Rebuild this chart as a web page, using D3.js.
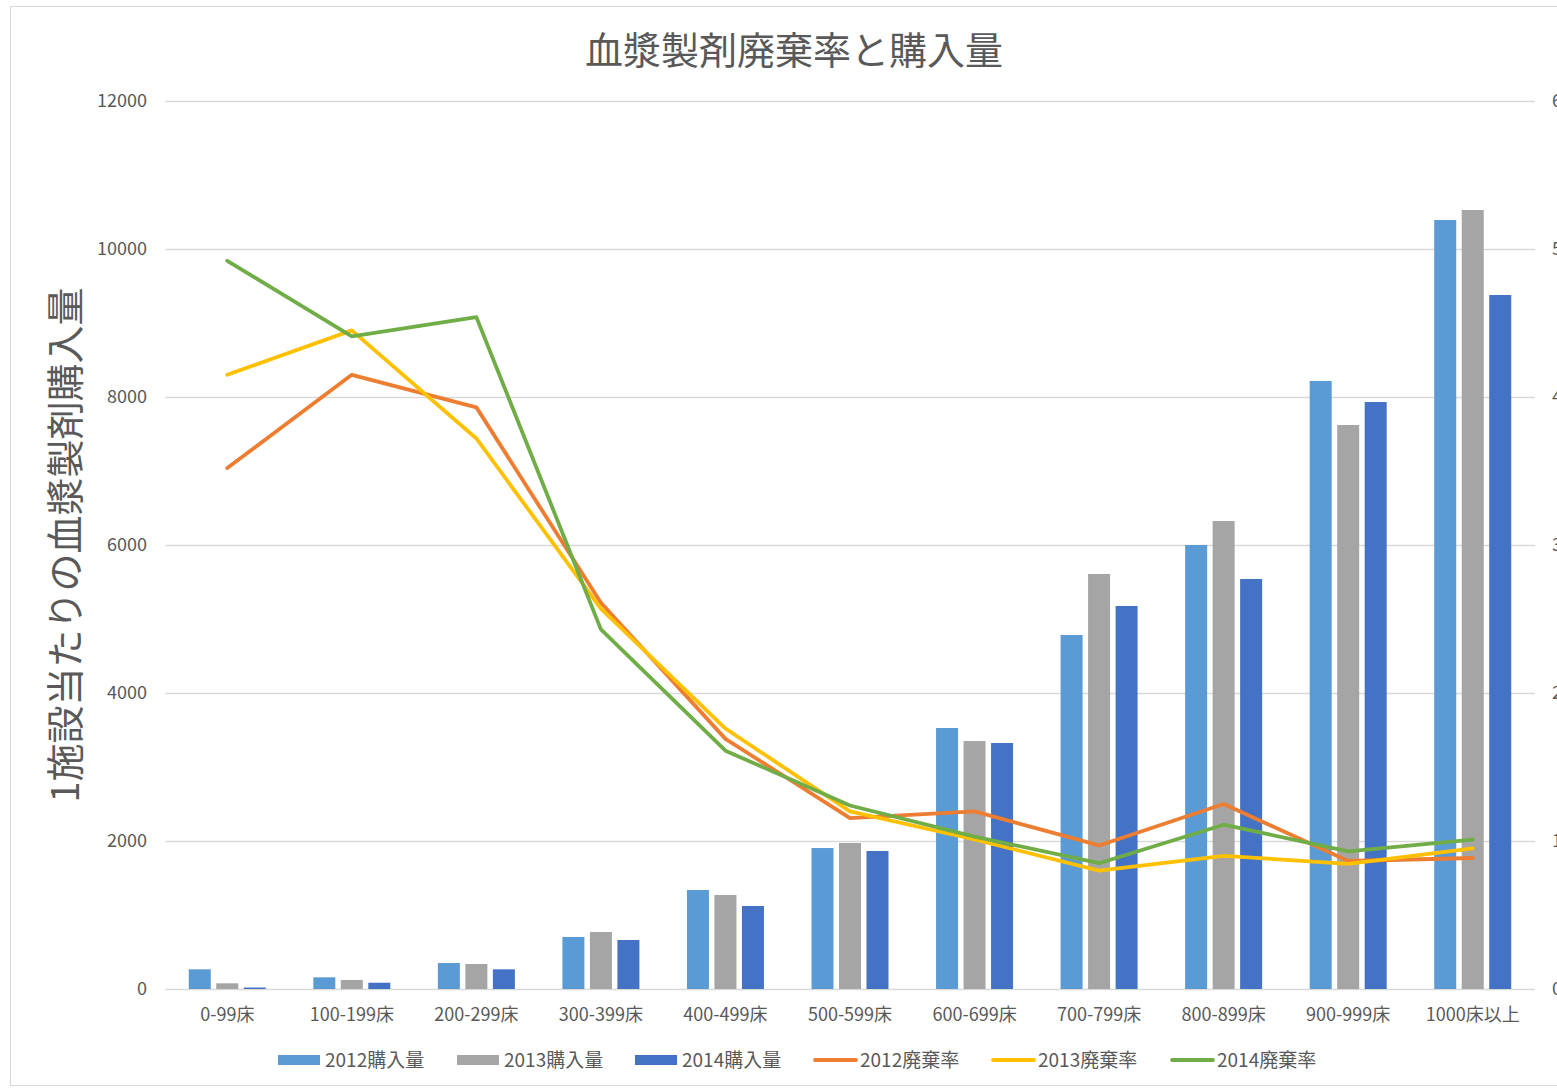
<!DOCTYPE html>
<html>
<head>
<meta charset="utf-8">
<script src="https://cdn.jsdelivr.net/npm/d3@7"></script>
<style>
  body { margin: 0; background: #fff; }
  text { font-family: "Noto Sans CJK JP", "Noto Sans", sans-serif; fill: #595959; }
</style>
</head>
<body>
<svg id="chart" width="1557" height="1088"></svg>
<script>
// data
var categories = ["0-99床","100-199床","200-299床","300-399床","400-499床","500-599床","600-699床","700-799床","800-899床","900-999床","1000床以上"]
var barSeries = ["2012購入量","2013購入量","2014購入量"]
var buy2012 = [266, 158, 351, 703, 1338, 1905, 3527, 4784, 6000, 8216, 10392]
var buy2013 = [77, 122, 338, 770, 1270, 1973, 3351, 5608, 6324, 7622, 10527]
var buy2014 = [20, 85, 266, 662, 1122, 1865, 3324, 5176, 5541, 7932, 9378]
var lineSeries = ["2012廃棄率","2013廃棄率","2014廃棄率"]
var waste2012 = [3.52, 4.15, 3.93, 2.61, 1.69, 1.155, 1.20, 0.97, 1.25, 0.865, 0.885]
var waste2013 = [4.15, 4.45, 3.72, 2.57, 1.76, 1.20, 1.01, 0.80, 0.90, 0.845, 0.95]
var waste2014 = [4.92, 4.41, 4.54, 2.43, 1.61, 1.24, 1.03, 0.85, 1.11, 0.93, 1.01]
var leftTicks = [0, 2000, 4000, 6000, 8000, 10000, 12000]
var rightTicks = [0, 1, 2, 3, 4, 5, 6]

var barColors = ["#5b9bd5", "#a5a5a5", "#4472c4"]
var lineColors = ["#ed7d31", "#ffc000", "#70ad47"]

function draw(){
    var svg = d3.select("#chart")
    var left = 165, right = 1535, top = 101, bottom = 989

    // chart frame
    svg.append("rect")
    .attr("x", 10.5).attr("y", 6.5)
    .attr("width", 1600).attr("height", 1079)
    .attr("fill", "none").attr("stroke", "#d9d9d9")

    var x = d3.scaleBand().domain(categories).range([left, right]).padding(0)
    var inner = d3.scaleBand().domain(barSeries).range([-38.5, 38.5]).paddingInner(0.2)
    var y = d3.scaleLinear().domain([0, 12000]).range([bottom, top])
    var y2 = d3.scaleLinear().domain([0, 6]).range([bottom, top])

    // gridlines
    svg.append("g").selectAll("line")
    .data(leftTicks)
    .enter()
    .append("line")
    .attr("x1", left).attr("x2", right)
    .attr("y1", d => y(d) + 0.5).attr("y2", d => y(d) + 0.5)
    .attr("stroke", "#d9d9d9").attr("stroke-width", 1.3)

    // left axis labels
    var yAxis = svg.append("g").attr("transform", "translate(" + left + ",0)")
    .call(d3.axisLeft(y).tickValues(leftTicks).tickFormat(d3.format("d")).tickSize(0).tickPadding(18))
    yAxis.select(".domain").remove()
    yAxis.selectAll("text").style("font-size", "18px").attr("fill", "#595959")

    // right axis labels (cut by the window edge, as in the original)
    var y2Axis = svg.append("g").attr("transform", "translate(" + right + ",0)")
    .call(d3.axisRight(y2).tickValues(rightTicks).tickFormat(d3.format("d")).tickSize(0).tickPadding(17))
    y2Axis.select(".domain").remove()
    y2Axis.selectAll("text").style("font-size", "18px").attr("fill", "#595959")

    // x axis labels
    var xAxis = svg.append("g").attr("transform", "translate(0," + bottom + ")")
    .call(d3.axisBottom(x).tickSize(0).tickPadding(19))
    xAxis.select(".domain").remove()
    xAxis.selectAll("text").style("font-size", "18px").attr("fill", "#595959")

    // bars
    var barData = [buy2012, buy2013, buy2014]
    barData.forEach(function(vals, s){
        svg.append("g").selectAll("rect")
        .data(vals)
        .enter()
        .append("rect")
        .attr("x", (d, i) => x(categories[i]) + x.bandwidth() / 2 + inner(barSeries[s]))
        .attr("width", inner.bandwidth())
        .attr("y", d => y(d))
        .attr("height", d => y(0) - y(d))
        .attr("fill", barColors[s])
    })

    // lines
    var lineData = [waste2012, waste2013, waste2014]
    var line = d3.line()
    .x((d, i) => x(categories[i]) + x.bandwidth() / 2)
    .y(d => y2(d))
    lineData.forEach(function(vals, s){
        svg.append("path")
        .datum(vals)
        .attr("d", line)
        .attr("fill", "none")
        .attr("stroke", lineColors[s])
        .attr("stroke-width", 3.8)
        .attr("stroke-linecap", "round")
        .attr("stroke-linejoin", "round")
    })

    // title
    svg.append("text")
    .attr("x", 794).attr("y", 64)
    .style("text-anchor", "middle")
    .style("font-size", "38px")
    .text("血漿製剤廃棄率と購入量")

    // y axis title
    svg.append("text")
    .attr("transform", "translate(79,545) rotate(-90)")
    .style("text-anchor", "middle")
    .style("font-size", "38px")
    .text("1施設当たりの血漿製剤購入量")

    // legend
    var legendX = [278, 457, 635, 813, 991, 1170]
    var legendLabels = barSeries.concat(lineSeries)
    var legendColors = barColors.concat(lineColors)
    var lg = svg.append("g").selectAll("g")
    .data(legendLabels)
    .enter()
    .append("g")
    .attr("transform", (d, i) => "translate(" + legendX[i] + ",1060)")
    lg.each(function(d, i){
        var g = d3.select(this)
        if (i < 3) {
            g.append("rect").attr("x", 0).attr("y", -5).attr("width", 42).attr("height", 10)
            .attr("fill", legendColors[i])
        } else {
            g.append("line").attr("x1", 2).attr("x2", 43).attr("y1", 0).attr("y2", 0)
            .attr("stroke", legendColors[i]).attr("stroke-width", 3.8).attr("stroke-linecap", "round")
        }
        g.append("text").attr("x", 47).attr("y", 7)
        .style("font-size", "19px")
        .text(d)
    })
}
draw()
</script>
</body>
</html>
